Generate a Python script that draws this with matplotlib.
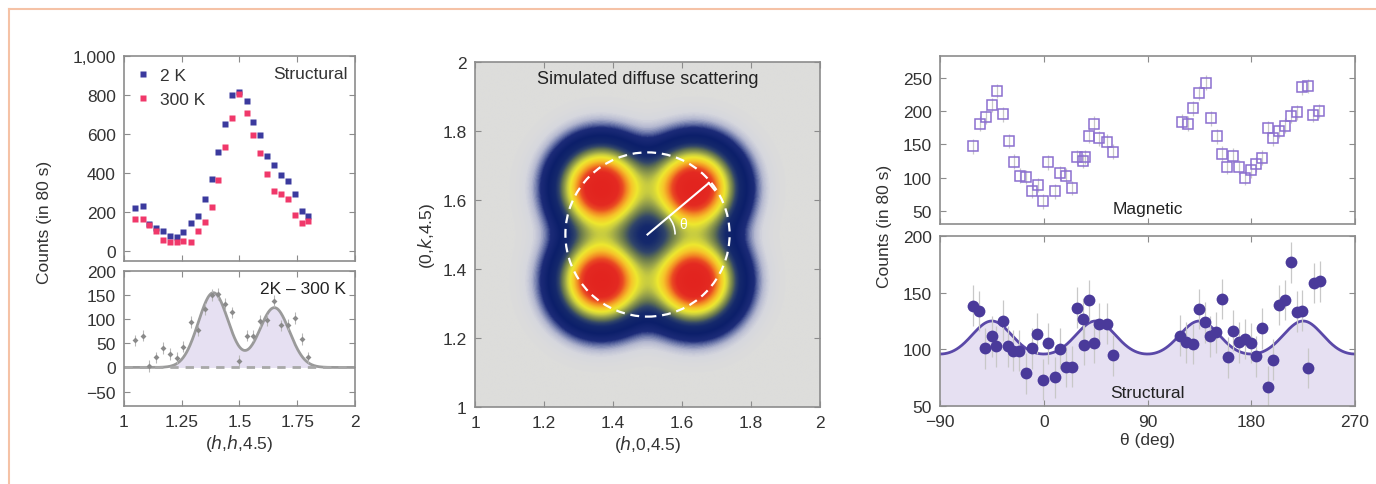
import numpy as np
import matplotlib.pyplot as plt
from matplotlib.colors import LinearSegmentedColormap
from matplotlib.patches import Circle, Arc
from matplotlib.lines import Line2D
from matplotlib.ticker import FuncFormatter

plt.rcParams['font.family'] = ['Liberation Sans', 'DejaVu Sans']
plt.rcParams['font.size'] = 12.5

# (h,h,4.5) scans, 2 K and 300 K
hh = [1.048, 1.084, 1.108, 1.139, 1.170, 1.199, 1.228, 1.257, 1.289, 1.319, 1.349, 1.380, 1.408,
      1.439, 1.469, 1.499, 1.531, 1.560, 1.590, 1.619, 1.649, 1.680, 1.709, 1.739, 1.769, 1.798]
counts_2k = [219, 233, 138, 121, 104, 78, 74, 98, 143, 181, 268, 372, 510,
             652, 800, 817, 772, 660, 596, 489, 441, 389, 358, 292, 207, 181]
counts_300k = [164, 164, 135, 104, 60, 47, 48, 52, 47, 104, 150, 225, 363,
               535, 685, 805, 709, 594, 503, 394, 306, 294, 268, 187, 147, 155]
counts_diff = [56, 66, 3, 21, 40, 28, 19, 43, 94, 77, 121, 150, 152,
               131, 114, 13, 66, 66, 96, 98, 138, 87, 89, 103, 59, 21]
diff_err = 12

# two-gaussian fit of the difference
fit_centers = [1.387, 1.651]
fit_heights = [155, 124]
fit_sigma = 0.065

# diffuse scattering model: four spots around (1.5, 1.5)
spot_h = [1.365, 1.365, 1.635, 1.635]
spot_k = [1.365, 1.635, 1.365, 1.635]
spot_sigma = 0.08
circle_radius = 0.238
theta_mark = 40

# theta scans around the circle
theta_mag = [-61.1, -55.3, -50.1, -44.6, -40.3, -35.0, -30.2, -25.8, -20.6, -15.7, -10.2, -5.3, -0.9,
             4.0, 9.8, 14.1, 19.3, 24.2, 29.1, 33.7, 35.7, 39.5, 43.9, 48.2, 54.6, 60.4,
             119.6, 124.8, 129.7, 134.6, 140.7, 145.0, 150.0, 154.6, 159.2, 164.4, 169.6, 174.5, 179.5,
             184.1, 189.5, 194.2, 199.1, 204.3, 209.5, 214.2, 219.4, 223.7, 229.5, 233.8, 239.0]
counts_mag = [147, 181, 191, 209, 230, 195, 155, 124, 103, 101, 80, 89, 64,
              123, 79, 107, 103, 84, 131, 125, 131, 163, 181, 159, 154, 139,
              184, 181, 204, 227, 243, 189, 162, 136, 116, 133, 116, 100, 111,
              120, 130, 174, 159, 170, 178, 193, 198, 236, 238, 194, 200]
mag_err = 11

theta_str = [-61.1, -56.2, -50.7, -44.9, -41.7, -35.1, -30.7, -26.4, -21.2, -15.4, -10.5, -5.6, -0.9,
             4.0, 9.7, 14.1, 19.3, 24.2, 29.1, 33.7, 34.9, 39.5, 43.9, 48.2, 54.6, 59.8,
             118.2, 123.4, 129.2, 135.0, 139.9, 144.3, 149.5, 155.0, 159.4, 164.6, 169.8, 174.7,
             179.7, 184.3, 189.2, 194.4, 199.3, 204.5, 209.4, 214.4, 219.6, 224.4, 229.6, 234.6, 239.8]
counts_str = [138.5, 133.9, 101.0, 111.5, 102.7, 125.3, 102.7, 98.9, 98.9, 78.9, 101.0, 113.7, 73.3,
              105.4, 75.4, 100.4, 84.8, 84.8, 136.6, 126.9, 104.0, 143.1, 105.8, 122.5, 122.5, 94.6,
              112.0, 106.2, 104.7, 135.6, 123.9, 111.5, 115.0, 144.4, 93.0, 116.5, 106.2, 109.2,
              105.6, 93.9, 118.6, 67.0, 90.9, 139.1, 143.6, 176.8, 133.2, 134.1, 83.6, 158.5, 160.0]
str_err = 18

# structural model along the circle
str_base = 94
str_amp = 31
str_peaks = [-135, -45, 45, 135, 225, 315]
str_sigma = 17

blue = '#3b3a9e'
pink = '#f0386a'
purple = '#4a3a9a'
lilac = '#8b6fcf'
lavender = '#e6e0f2'
frame = '#8c8c8c'
grey_pts = '#8a8a8a'


def style(ax):
    for s in ax.spines.values():
        s.set_color(frame)
        s.set_linewidth(1.2)
    ax.tick_params(direction='in', top=True, right=True, color=frame, length=4,
                   labelcolor='#333333', pad=6)


fig = plt.figure(figsize=(13.76, 4.85), dpi=100)
W, H = 1376, 485


def box(x0, y0, x1, y1):
    return fig.add_axes([x0 / W, 1 - y1 / H, (x1 - x0) / W, (y1 - y0) / H])


# left: structural scans
ax1 = box(124, 57, 355, 262)
ax1.plot(hh, counts_2k, 's', color=blue, ms=4.5, mec='none', label='2 K')
ax1.plot(hh, counts_300k, 's', color=pink, ms=4.5, mec='none', label='300 K')
ax1.set_xlim(1, 2)
ax1.set_ylim(-50, 1000)
ax1.set_yticks([0, 200, 400, 600, 800, 1000])
ax1.yaxis.set_major_formatter(FuncFormatter(lambda v, p: f'{int(v):,}'))
ax1.set_xticks([1, 1.25, 1.5, 1.75, 2])
ax1.set_xticklabels([])
ax1.text(0.97, 0.915, 'Structural', transform=ax1.transAxes, ha='right', va='center', color='#333333')
ax1.legend(loc='upper left', frameon=False, handlelength=0.8, handletextpad=0.6,
           borderaxespad=0.3, labelspacing=0.5, fontsize=12.5, labelcolor='#333333')
style(ax1)

ax2 = box(124, 272, 355, 407)
xf = np.linspace(1, 2, 400)
fit = sum(hgt * np.exp(-(xf - c) ** 2 / (2 * fit_sigma ** 2)) for c, hgt in zip(fit_centers, fit_heights))
ax2.fill_between(xf, 0, fit, color=lavender, lw=0)
ax2.plot(xf, fit, color='#9a9a9a', lw=2)
ax2.plot([1, 2], [0, 0], color='#a8a8a8', lw=2, ls=(0, (3, 2.5)))
ax2.errorbar(hh, counts_diff, yerr=diff_err, fmt='D', color=grey_pts, ms=3, mec='none',
             ecolor='#b8b8b8', elinewidth=0.8, capsize=0)
ax2.set_xlim(1, 2)
ax2.set_ylim(-80, 200)
ax2.set_yticks([-50, 0, 50, 100, 150, 200])
ax2.set_xticks([1, 1.25, 1.5, 1.75, 2])
ax2.set_xticklabels(['1', '1.25', '1.5', '1.75', '2'])
ax2.set_xlabel('($h$,$h$,4.5)', color='#333333', labelpad=2)
ax2.text(0.96, 0.87, '2K \u2013 300 K', transform=ax2.transAxes, ha='right', va='center', color='#222222')
style(ax2)
fig.text(45 / W, 1 - 222 / H, 'Counts (in 80 s)', rotation=90, ha='center', va='center', color='#333333')

# middle: simulated diffuse scattering map
ax3 = box(475, 63, 820, 408)
g = np.linspace(1, 2, 500)
X, Y = np.meshgrid(g, g)
Z = np.zeros_like(X)
for ph, pk in zip(spot_h, spot_k):
    Z += np.exp(-((X - ph) ** 2 + (Y - pk) ** 2) / (2 * spot_sigma ** 2))
stops = [(0.0, '#dddddb'), (0.02, '#d6d7de'), (0.04, '#b4b8d0'), (0.065, '#6470a6'),
         (0.09, '#1c2b78'), (0.16, '#0c1f6a'), (0.25, '#15296c'), (0.31, '#30446a'),
         (0.37, '#68784e'), (0.43, '#9aa44a'), (0.48, '#c8cc40'), (0.54, '#eee82e'),
         (0.62, '#f6c42a'), (0.70, '#f28a24'), (0.77, '#ea4a22'), (0.85, '#e42a22'),
         (1.0, '#e2241f')]
cmap = LinearSegmentedColormap.from_list('diffuse', stops)
ax3.imshow(Z, extent=(1, 2, 1, 2), origin='lower', cmap=cmap, vmin=0, vmax=1,
           interpolation='bilinear', aspect='auto')
ax3.add_patch(Circle((1.5, 1.5), circle_radius, fill=False, ec='white', lw=1.6, ls=(0, (4, 2.6))))
t = np.radians(theta_mark)
r_end = circle_radius - 0.006
ex, ey = 1.5 + r_end * np.cos(t), 1.5 + r_end * np.sin(t)
ax3.plot([1.5, ex], [1.5, ey], color='white', lw=1.5)
ax3.plot([ex, ex + 0.027 * np.sin(t)], [ey, ey - 0.027 * np.cos(t)], color='white', lw=1.5)
ax3.add_patch(Arc((1.5, 1.5), 0.16, 0.16, theta1=0, theta2=theta_mark, color='white', lw=1.2))
ax3.text(1.603, 1.53, '\u03b8', color='white', fontsize=10, ha='center', va='center')
ax3.text(1.5, 1.953, 'Simulated diffuse scattering', ha='center', va='center', color='#222222', fontsize=13)
ax3.set_xlim(1, 2)
ax3.set_ylim(1, 2)
ticks = [1, 1.2, 1.4, 1.6, 1.8, 2]
ax3.set_xticks(ticks)
ax3.set_yticks(ticks)
ax3.set_xticklabels(['1', '1.2', '1.4', '1.6', '1.8', '2'])
ax3.set_yticklabels(['1', '1.2', '1.4', '1.6', '1.8', '2'])
ax3.set_xlabel('($h$,0,4.5)', color='#333333', labelpad=2)
ax3.set_ylabel('(0,$k$,4.5)', color='#333333', labelpad=4)
style(ax3)

# right: magnetic and structural intensity around the circle
ax4 = box(940, 57, 1355, 225)
ax4.errorbar(theta_mag, counts_mag, yerr=mag_err, fmt='s', ms=6.5, mfc='none', mec=lilac, mew=1.1,
             ecolor='#c8c8c8', elinewidth=0.9, capsize=0)
ax4.set_xlim(-90, 270)
ax4.set_ylim(30, 283)
ax4.set_xticks([-90, 0, 90, 180, 270])
ax4.set_xticklabels([])
ax4.set_yticks([50, 100, 150, 200, 250])
ax4.text(90, 54, 'Magnetic', ha='center', va='center', color='#222222')
style(ax4)

ax5 = box(940, 237, 1355, 407)
th = np.linspace(-90, 270, 721)
model = str_base + sum(str_amp * np.exp(-(th - p) ** 2 / (2 * str_sigma ** 2)) for p in str_peaks)
ax5.fill_between(th, 50, model, color=lavender, lw=0)
ax5.plot(th, model, color='#5a48a8', lw=2)
ax5.errorbar(theta_str, counts_str, yerr=str_err, fmt='o', ms=8.5, color=purple, mec='none',
             ecolor='#c8c8c8', elinewidth=0.9, capsize=0)
ax5.set_xlim(-90, 270)
ax5.set_ylim(50, 200)
ax5.set_xticks([-90, 0, 90, 180, 270])
ax5.set_xticklabels(['\u221290', '0', '90', '180', '270'])
ax5.set_yticks([50, 100, 150, 200])
ax5.set_xlabel('\u03b8 (deg)', color='#333333', labelpad=2)
ax5.text(90, 62, 'Structural', ha='center', va='center', color='#222222')
style(ax5)
fig.text(884 / W, 1 - 226 / H, 'Counts (in 80 s)', rotation=90, ha='center', va='center', color='#333333')

# frame lines
fig.add_artist(Line2D([9 / W, 1], [1 - 10 / H, 1 - 10 / H], color='#f5c2a6', lw=1.5))
fig.add_artist(Line2D([9 / W, 9 / W], [0, 1 - 10 / H], color='#f5c2a6', lw=1.5))

fig.savefig('out.png', dpi=100)
